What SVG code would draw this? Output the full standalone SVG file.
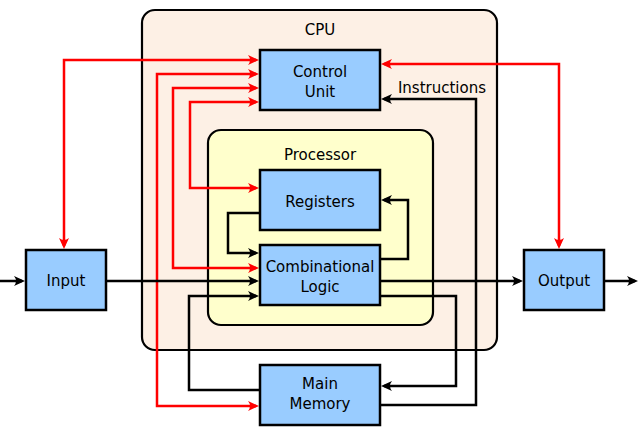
<svg xmlns="http://www.w3.org/2000/svg" width="640" height="438" viewBox="0 0 640 438">
<style>
.box{fill:#99ccff;stroke:#000;stroke-width:2.5}
.cpu{fill:#fdf0e5;stroke:#000;stroke-width:2.2}
.proc{fill:#ffffcc;stroke:#000;stroke-width:2.2}
text{font-family:"DejaVu Sans",Verdana,sans-serif;font-size:15px;fill:#000;text-anchor:middle}
.red{fill:none;stroke:#ff0000;stroke-width:2.5;marker-start:url(#ar);marker-end:url(#ar)}
.blk{fill:none;stroke:#000;stroke-width:2.5;marker-end:url(#ab)}
</style>
<defs>
<marker id="ar" markerUnits="userSpaceOnUse" orient="auto-start-reverse" refX="-3" refY="0" markerWidth="14" markerHeight="12" viewBox="-12 -6 14 12" overflow="visible">
<path d="M0,0 L-11,-5 Q-7,0 -11,5 Z" fill="#ff0000"/>
</marker>
<marker id="ab" markerUnits="userSpaceOnUse" orient="auto-start-reverse" refX="-3" refY="0" markerWidth="14" markerHeight="12" viewBox="-12 -6 14 12" overflow="visible">
<path d="M0,0 L-11,-5 Q-7,0 -11,5 Z" fill="#000"/>
</marker>
</defs>
<g id="cpu">
<rect class="cpu" x="142" y="10" width="355" height="340" rx="13"/>
<text x="320" y="35">CPU</text>
</g>
<g id="processor">
<rect class="proc" x="208" y="130" width="225" height="195" rx="13"/>
<text x="320" y="160">Processor</text>
</g>
<g id="connectors">
<path class="red" d="M64,246 V60 H256"/>
<path class="red" d="M256,74 H157 V406 H256"/>
<path class="red" d="M256,88 H173 V268 H256"/>
<path class="red" d="M256,102 H190 V188 H256"/>
<path class="red" d="M384,64 H559 V246"/>
<path class="blk" d="M0,281 H22"/>
<path class="blk" d="M106,281 H256"/>
<path class="blk" d="M380,281 H520"/>
<path class="blk" d="M604,281 H635"/>
<path class="blk" d="M380,259 H408 V200 H384"/>
<path class="blk" d="M260,213 H228 V253 H256"/>
<path class="blk" d="M260,390 H189 V296 H256"/>
<path class="blk" d="M380,296 H456 V386 H384"/>
<path class="blk" d="M380,405 H476 V99 H384"/>
<text x="442" y="93">Instructions</text>
</g>
<g id="control-unit">
<rect class="box" x="260" y="50" width="120" height="60"/>
<text x="320" y="77">Control</text>
<text x="320" y="97">Unit</text>
</g>
<g id="registers">
<rect class="box" x="260" y="170" width="120" height="60"/>
<text x="320" y="206.5">Registers</text>
</g>
<g id="combinational-logic">
<rect class="box" x="260" y="245" width="120" height="60"/>
<text x="320" y="272">Combinational</text>
<text x="320" y="292">Logic</text>
</g>
<g id="main-memory">
<rect class="box" x="260" y="365" width="120" height="60"/>
<text x="320" y="389">Main</text>
<text x="320" y="409">Memory</text>
</g>
<g id="input">
<rect class="box" x="26" y="250" width="80" height="60"/>
<text x="66" y="286">Input</text>
</g>
<g id="output">
<rect class="box" x="524" y="250" width="80" height="60"/>
<text x="564" y="286">Output</text>
</g>
</svg>
